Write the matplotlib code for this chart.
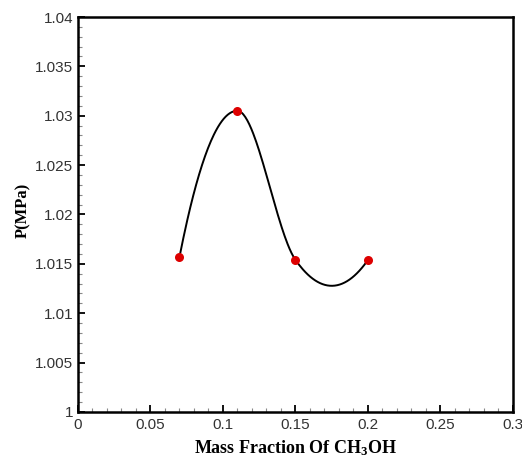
import numpy as np
import matplotlib.pyplot as plt
from matplotlib.ticker import MultipleLocator

plt.rcParams['mathtext.fontset'] = 'custom'
plt.rcParams['mathtext.rm'] = 'Liberation Serif:bold'
plt.rcParams['mathtext.it'] = 'Liberation Serif:bold'
plt.rcParams['mathtext.bf'] = 'Liberation Serif:bold'

# mass fraction of methanol vs. pressure
mass_frac = [0.07, 0.11, 0.15, 0.20]
pressure = [1.0157, 1.0305, 1.0154, 1.0154]


def smooth_curve(x, y, n=60):
    # piecewise cubic hermite, tangents from three-point parabolas
    x = np.asarray(x, float)
    y = np.asarray(y, float)
    h = np.diff(x)
    d = np.diff(y) / h
    m = np.zeros_like(x)
    m[1:-1] = (h[1:] * d[:-1] + h[:-1] * d[1:]) / (h[:-1] + h[1:])
    m[0] = d[0] + (d[0] - d[1]) * h[0] / (h[0] + h[1])
    m[-1] = d[-1] + (d[-1] - d[-2]) * h[-1] / (h[-1] + h[-2])
    xs, ys = [], []
    for i in range(len(h)):
        t = np.linspace(0, 1, n)
        h00 = 2 * t**3 - 3 * t**2 + 1
        h10 = t**3 - 2 * t**2 + t
        h01 = -2 * t**3 + 3 * t**2
        h11 = t**3 - t**2
        xs.append(x[i] + t * h[i])
        ys.append(h00 * y[i] + h10 * h[i] * m[i] + h01 * y[i + 1] + h11 * h[i] * m[i + 1])
    return np.concatenate(xs), np.concatenate(ys)


fig = plt.figure(figsize=(5.22, 4.57), dpi=100)
ax = fig.add_axes([0.1494, 0.0985, 0.8333, 0.8643])

xs, ys = smooth_curve(mass_frac, pressure)
ax.plot(xs, ys, color='black', lw=1.4, zorder=2)
ax.plot(mass_frac, pressure, 'o', color='#dd0000', ms=6.5, mec='none', zorder=3)

ax.set_xlim(0, 0.3)
ax.set_ylim(1, 1.04)
ax.xaxis.set_major_locator(MultipleLocator(0.05))
ax.xaxis.set_minor_locator(MultipleLocator(0.01))
ax.yaxis.set_major_locator(MultipleLocator(0.005))
ax.yaxis.set_minor_locator(MultipleLocator(0.001))
ax.xaxis.set_major_formatter(plt.FuncFormatter(lambda v, p: f'{v:g}'))
ax.yaxis.set_major_formatter(plt.FuncFormatter(lambda v, p: f'{v:.3f}'.rstrip('0').rstrip('.')))

ax.tick_params(which='both', direction='in', top=False, right=False,
               labelsize=11, colors='black')
ax.tick_params(which='major', length=5, width=1.3)
ax.tick_params(which='minor', length=3, width=0.8, color='#888888')
ax.tick_params(axis='x', pad=4)
for lab in ax.get_xticklabels() + ax.get_yticklabels():
    lab.set_family('Liberation Sans')
    lab.set_color('#333333')
for sp in ax.spines.values():
    sp.set_linewidth(1.8)

ax.set_xlabel(r'Mass Fraction Of CH$_3$OH', family='Liberation Serif',
              fontweight='bold', fontsize=13)
ax.set_ylabel('P(MPa)', family='Liberation Serif', fontweight='bold',
              fontsize=12)
ax.xaxis.set_label_coords(0.5, -0.066)
ax.yaxis.set_label_coords(-0.108, 0.511)

fig.savefig('out.png', dpi=100)
